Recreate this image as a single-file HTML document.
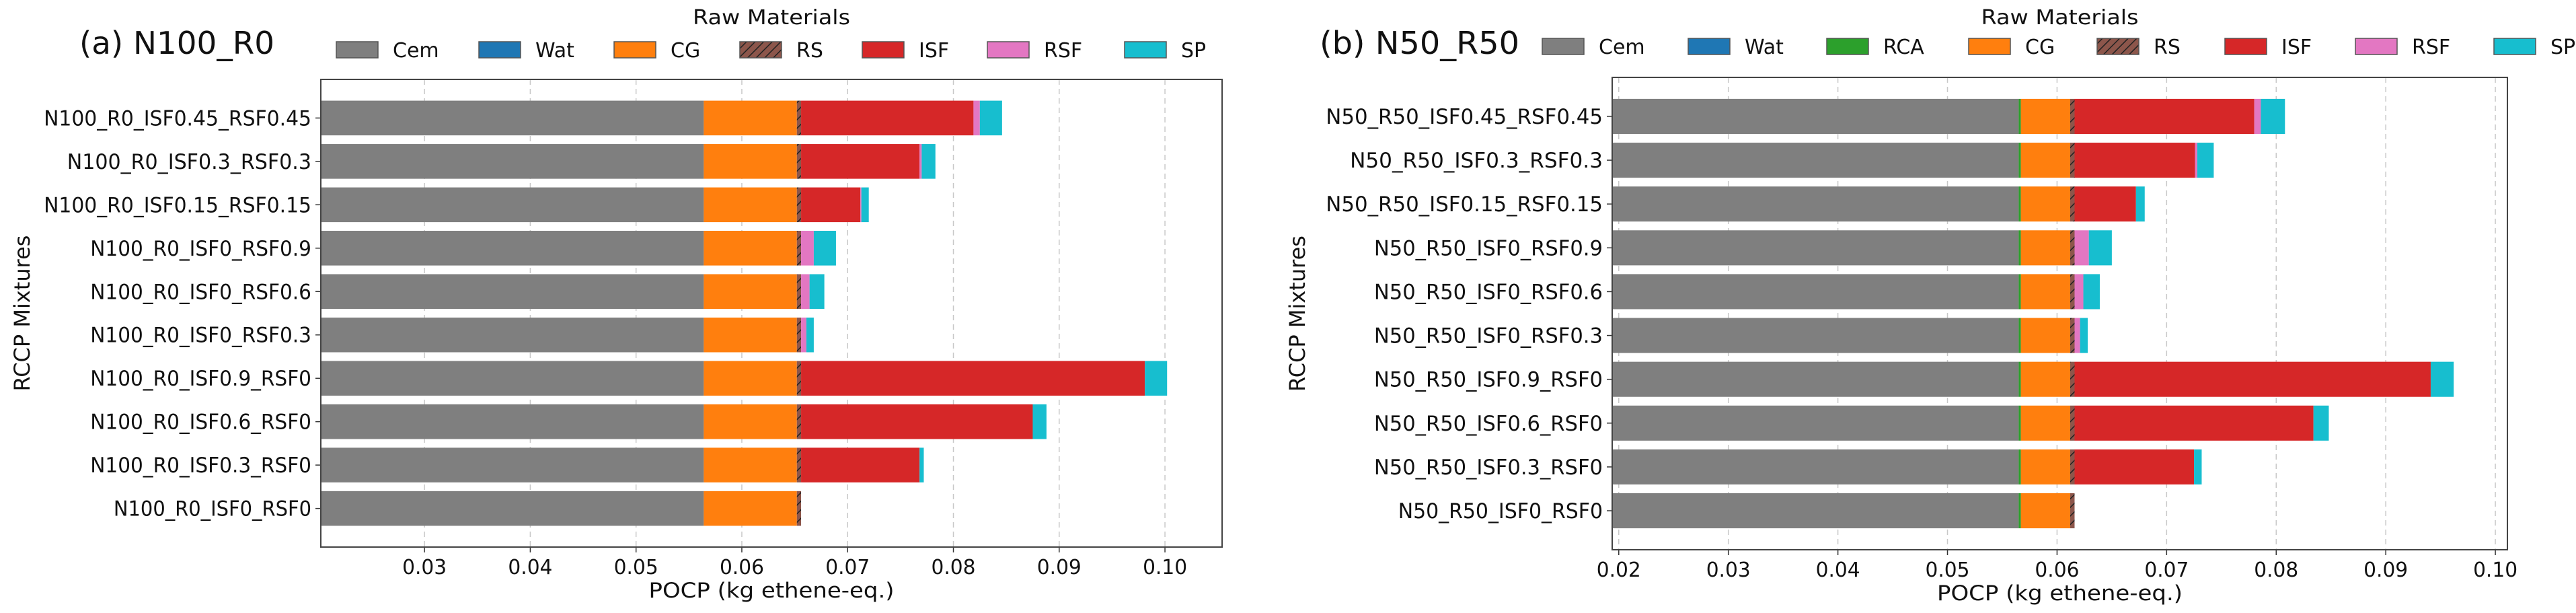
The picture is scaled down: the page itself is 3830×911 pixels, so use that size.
<!DOCTYPE html>
<html><head><meta charset="utf-8"><style>
html,body{margin:0;padding:0;background:#fff;}
svg{display:block;font-family:"DejaVu Sans","Liberation Sans",sans-serif;}
</style></head><body>
<svg id="chart" width="3830" height="911" viewBox="0 0 3830 911" xmlns="http://www.w3.org/2000/svg">
<defs>
<pattern id="hatch" patternUnits="userSpaceOnUse" width="9" height="9" patternTransform="rotate(45)">
<rect width="9" height="9" fill="#8c564b"/><line x1="0" y1="0" x2="0" y2="9" stroke="#222" stroke-width="3"/>
</pattern>
</defs>
</svg>
<script>
// Panel (a) N100_R0 — listed top to bottom
const catsA = ["N100_R0_ISF0.45_RSF0.45","N100_R0_ISF0.3_RSF0.3","N100_R0_ISF0.15_RSF0.15","N100_R0_ISF0_RSF0.9","N100_R0_ISF0_RSF0.6","N100_R0_ISF0_RSF0.3","N100_R0_ISF0.9_RSF0","N100_R0_ISF0.6_RSF0","N100_R0_ISF0.3_RSF0","N100_R0_ISF0_RSF0"];
const cemA = [0.0564,0.0564,0.0564,0.0564,0.0564,0.0564,0.0564,0.0564,0.0564,0.0564];
const watA = [0,0,0,0,0,0,0,0,0,0];
const rcaA = [0,0,0,0,0,0,0,0,0,0];
const cgA = [0.0088,0.0088,0.0088,0.0088,0.0088,0.0088,0.0088,0.0088,0.0088,0.0088];
const rsA = [0.0004,0.0004,0.0004,0.0004,0.0004,0.0004,0.0004,0.0004,0.0004,0.0004];
const isfA = [0.0163,0.0112,0.0056,0,0,0,0.0325,0.0219,0.0112,0];
const rsfA = [0.0006,0.0002,0.0001,0.0012,0.0008,0.0005,0,0,0,0];
const spA = [0.0021,0.0013,0.0007,0.0021,0.0014,0.0007,0.0021,0.0013,0.0004,0];
const ticksA = ["0.03","0.04","0.05","0.06","0.07","0.08","0.09","0.10"];

// Panel (b) N50_R50
const catsB = ["N50_R50_ISF0.45_RSF0.45","N50_R50_ISF0.3_RSF0.3","N50_R50_ISF0.15_RSF0.15","N50_R50_ISF0_RSF0.9","N50_R50_ISF0_RSF0.6","N50_R50_ISF0_RSF0.3","N50_R50_ISF0.9_RSF0","N50_R50_ISF0.6_RSF0","N50_R50_ISF0.3_RSF0","N50_R50_ISF0_RSF0"];
const cemB = [0.0565,0.0565,0.0565,0.0565,0.0565,0.0565,0.0565,0.0565,0.0565,0.0565];
const watB = [0,0,0,0,0,0,0,0,0,0];
const rcaB = [0.0002,0.0002,0.0002,0.0002,0.0002,0.0002,0.0002,0.0002,0.0002,0.0002];
const cgB = [0.0045,0.0045,0.0045,0.0045,0.0045,0.0045,0.0045,0.0045,0.0045,0.0045];
const rsB = [0.0004,0.0004,0.0004,0.0004,0.0004,0.0004,0.0004,0.0004,0.0004,0.0004];
const isfB = [0.0164,0.0110,0.0056,0,0,0,0.0325,0.0218,0.0109,0];
const rsfB = [0.0006,0.0002,0,0.0013,0.0008,0.0005,0,0,0,0];
const spB = [0.0022,0.0015,0.0008,0.0021,0.0015,0.0007,0.0021,0.0014,0.0007,0];
const ticksB = ["0.02","0.03","0.04","0.05","0.06","0.07","0.08","0.09","0.10"];

const matNames = ["Cem","Wat","RCA","CG","RS","ISF","RSF","SP"];
const matFills = ["#7f7f7f","#1f77b4","#2ca02c","#ff7f0e","url(#hatch)","#d62728","#e377c2","#17becf"];

const svg = document.getElementById('chart');
const NS = "http://www.w3.org/2000/svg";
function mk(tag, attrs, parent){
  const e = document.createElementNS(NS, tag);
  for (const k in attrs) e.setAttribute(k, attrs[k]);
  (parent||svg).appendChild(e);
  return e;
}

function panel(p){
  const g = mk('g', {});
  
  
  const xs = v => p.x0 + (v - p.xmin) / (p.xmax - p.xmin) * (p.x1 - p.x0);
  const n = p.cats.length;
  const unit = (p.y1 - p.y0) / (n - 1 + 0.8 + 0.98);
  const yc = i => p.y0 + (0.89 + i) * unit;
  // grid
  p.ticks.forEach(t => {
    const x = xs(parseFloat(t));
    const gl = mk('line', {x1:x, x2:x, y1:p.y0, y2:p.y1, stroke:'#c8c8c8', 'stroke-width':1.5, 'stroke-dasharray':'8,6'}, g);
    
    
  });
  const clip = mk('clipPath', {id:'clip-'+p.id}, g);
  mk('rect', {x:p.x0, y:p.y0, width:p.x1-p.x0, height:p.y1-p.y0}, clip);
  const bars = mk('g', {'clip-path':'url(#clip-'+p.id+')'}, g);
  p.cats.forEach((c, i) => {
    let acc = 0;
    const h = 0.8 * unit;
    p.series.forEach((s, k) => {
      const v = s[i];
      if (v <= 0) { acc += v; return; }
      const xa = xs(acc), xb = xs(acc + v);
      const r = mk('rect', {x:xa, y:yc(i)-h/2, width:Math.max(xb-xa,0), height:h, fill:matFills[p.mats[k]]}, bars);
      
      
      acc += v;
    });
    mk('line', {x1:p.x0-8, x2:p.x0, y1:yc(i), y2:yc(i), stroke:'#333', 'stroke-width':1.5}, g);
    const tl = mk('text', {x:p.x0-14, y:yc(i)+11, 'text-anchor':'end', 'font-size':31, fill:'#111', textLength:c.length*p.cw, lengthAdjust:'spacingAndGlyphs'}, g);
    tl.textContent = c;
    
    
  });
  p.ticks.forEach(t => {
    const x = xs(parseFloat(t));
    mk('line', {x1:x, x2:x, y1:p.y1, y2:p.y1+8, stroke:'#333', 'stroke-width':1.5}, g);
    const tt = mk('text', {x:x, y:p.y1+40, 'text-anchor':'middle', 'font-size':30, fill:'#111', textLength:66, lengthAdjust:'spacingAndGlyphs'}, g);
    tt.textContent = t;
    
    
  });
  const fr = mk('rect', {x:p.x0, y:p.y0, width:p.x1-p.x0, height:p.y1-p.y0, fill:'none', stroke:'#444', 'stroke-width':2}, g);
  
  
  const xl = mk('text', {x:(p.x0+p.x1)/2, y:p.y1+75, 'text-anchor':'middle', 'font-size':31, fill:'#111', textLength:365, lengthAdjust:'spacingAndGlyphs'}, g);
  xl.textContent = 'POCP (kg ethene-eq.)';
  
  
  const yl = mk('text', {x:0, y:0, 'text-anchor':'middle', 'font-size':32, fill:'#111', transform:'translate('+(p.ylx)+','+((p.y0+p.y1)/2)+') rotate(-90)'}, g);
  yl.textContent = 'RCCP Mixtures';
  
  
  const ti = mk('text', {x:p.titleX, y:80, 'font-size':46, fill:'#111', textLength:p.titleW, lengthAdjust:'spacingAndGlyphs'}, g);
  ti.textContent = p.title;
  
  
  const lt = mk('text', {x:(p.x0+p.x1)/2, y:36, 'text-anchor':'middle', 'font-size':30, fill:'#111', textLength:234, lengthAdjust:'spacingAndGlyphs'}, g);
  lt.textContent = 'Raw Materials';
  
  
  p.mats.forEach((m, k) => {
    const lx = p.legX[k];
    const le = mk('g', {}, g);
    
    
    mk('rect', {x:lx, y:p.legY-12, width:62, height:24, fill:matFills[m], stroke:'#555', 'stroke-width':1.5}, le);
    const lb = mk('text', {x:lx+84, y:p.legY+11, 'font-size':30, fill:'#111'}, le);
    lb.textContent = matNames[m];
  });
}

panel({id:'a', title:'(a) N100_R0', titleX:118, titleW:290, x0:477, x1:1817, y0:118, y1:813, xmin:0.0202, xmax:0.1054,
  cats:catsA, ticks:ticksA, cw:17.3, ylx:44,
  series:[cemA, watA, cgA, rsA, isfA, rsfA, spA], mats:[0,1,3,4,5,6,7],
  legX:[500,712,913,1100,1282,1468,1672], legY:74});
panel({id:'b', title:'(b) N50_R50', titleX:1962, titleW:297, x0:2397, x1:3728, y0:115, y1:817, xmin:0.0194, xmax:0.1011,
  cats:catsB, ticks:ticksB, cw:17.9, ylx:1940,
  series:[cemB, watB, rcaB, cgB, rsB, isfB, rsfB, spB], mats:[0,1,2,3,4,5,6,7],
  legX:[2293,2510,2716,2927,3118,3308,3502,3708], legY:69});
</script>
</body></html>
